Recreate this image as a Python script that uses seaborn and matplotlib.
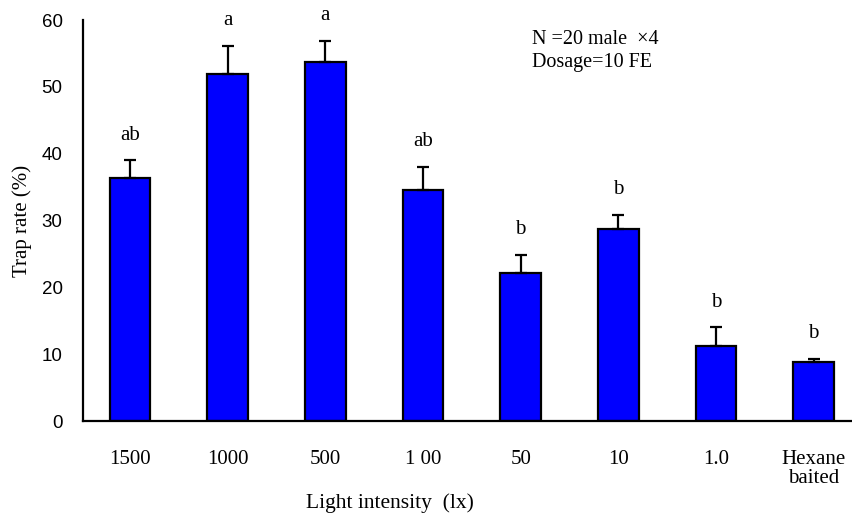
import matplotlib
matplotlib.use("Agg")
import matplotlib.pyplot as plt
import seaborn as sns
import numpy as np
import pandas as pd

categories = ["1500", "1000", "500", "1 00", "50", "10", "1.0", "Hexane\nbaited"]
means = [36.4, 51.9, 53.7, 34.6, 22.2, 28.8, 11.2, 8.8]
sems = [2.6, 4.2, 3.2, 3.4, 2.7, 2.1, 2.8, 0.5]
letters = ["ab", "a", "a", "ab", "b", "b", "b", "b"]
yticks = [0, 10, 20, 30, 40, 50, 60]

sns.set_theme(style="white")
plt.rcParams["font.family"] = ["Liberation Serif", "DejaVu Serif"]
plt.rcParams["text.color"] = "black"
plt.rcParams["axes.labelcolor"] = "black"
plt.rcParams["xtick.color"] = "black"
plt.rcParams["ytick.color"] = "black"

df = pd.DataFrame({"cat": categories, "mean": means})

fig = plt.figure(figsize=(8.53, 5.15), dpi=100)
ax = fig.add_axes([0.0977, 0.1825, 0.9019, 0.7785])

sns.barplot(data=df, x="cat", y="mean", order=categories, color="#0000ff",
            saturation=1, edgecolor="black", linewidth=1.6, width=0.415,
            errorbar=None, ax=ax)

x = np.arange(len(categories))
ax.errorbar(x, means, yerr=[np.zeros(len(sems)), sems], fmt="none",
            ecolor="black", elinewidth=1.6, capsize=4.3, capthick=1.6, zorder=3)

for xi, m, s, lab in zip(x, means, sems, letters):
    ax.annotate(lab, xy=(xi, m + s), xytext=(0, 15), textcoords="offset points",
                ha="center", va="baseline", fontsize=15,
                family="Liberation Serif", annotation_clip=False)

ax.set_xlim(-0.478, 7.40)
ax.set_ylim(0, 60)
ax.set_yticks(yticks)
ax.set_yticklabels([str(t) for t in yticks], family="Liberation Sans", fontsize=13.5)
ax.tick_params(axis="y", direction="in", length=7, width=1.3, pad=15, colors="black")
ax.tick_params(axis="x", length=0, pad=21, labelsize=15, colors="black")
for lab in ax.get_xticklabels():
    lab.set_family("Liberation Serif")
    lab.set_linespacing(1.0)

for side in ["top", "right"]:
    ax.spines[side].set_visible(False)
for side in ["left", "bottom"]:
    ax.spines[side].set_color("black")
    ax.spines[side].set_linewidth(1.6)

ax.set_xlabel("Light intensity  (lx)", fontsize=15.5, family="Liberation Serif")
ax.xaxis.set_label_coords(0.398, -0.18)
ax.set_ylabel("Trap rate (%)", fontsize=15, family="Liberation Serif")
ax.yaxis.set_label_coords(-0.067, 0.5)

ax.text(0.583, 0.9526, "N =20 male  \u00d74", transform=ax.transAxes,
        ha="left", va="center", fontsize=14.5, family="Liberation Serif")
ax.text(0.583, 0.8945, "Dosage=10 FE", transform=ax.transAxes,
        ha="left", va="center", fontsize=14.5, family="Liberation Serif")

fig.savefig("out.png", dpi=100)
